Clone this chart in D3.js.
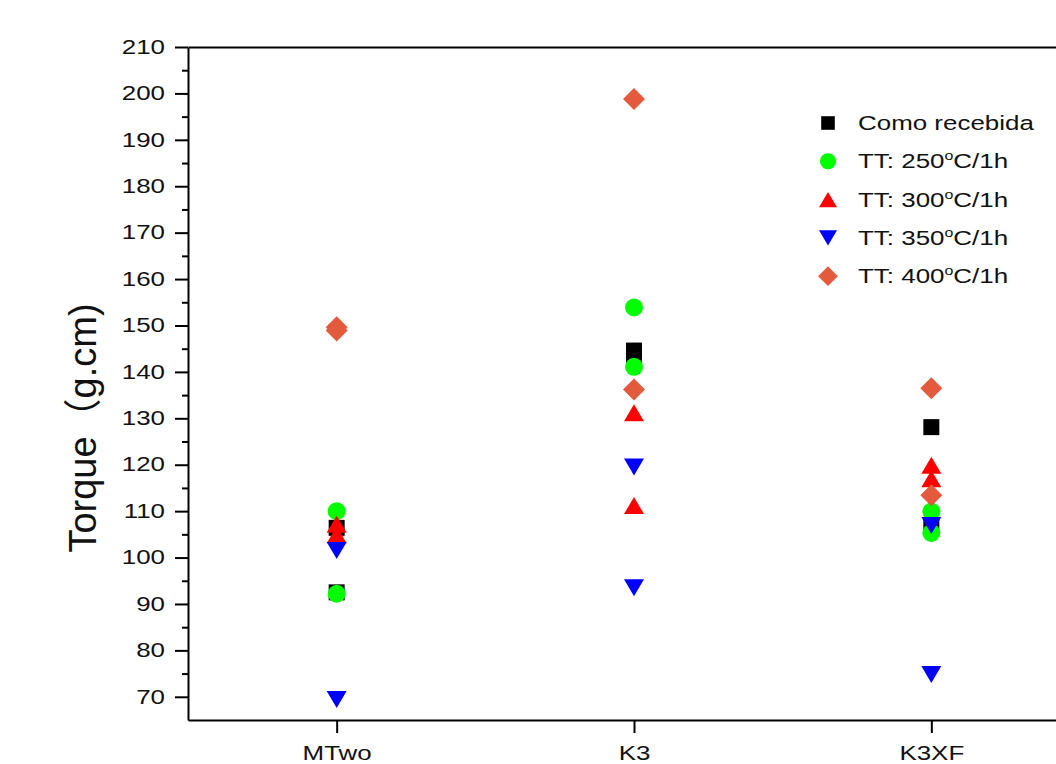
<!DOCTYPE html>
<html>
<head>
<meta charset="utf-8">
<script src="https://cdn.jsdelivr.net/npm/d3@7"></script>
<style>
  html, body { margin: 0; padding: 0; background: #fff; }
  svg { display: block; }
  text { font-family: "Liberation Sans", Arial, "Noto Sans CJK SC", sans-serif; fill: #111; }
</style>
</head>
<body>
<div id="chart"></div>
<script>
// categories on the x axis
const categories = ['MTwo', 'K3', 'K3XF'];

// two samples per category
const comoRecebida = [[106.4, 92.5], [144.6, 143.6], [128.1, 106.5]];
const tt250 = [[110.0, 92.2], [153.9, 141.1], [109.9, 105.3]];
const tt300 = [[107.2, 104.9], [131.2, 111.2], [119.9, 117.0]];
const tt350 = [[101.5, 69.4], [119.5, 93.5], [106.9, 74.8]];
const tt400 = [[149.6, 148.9], [198.8, 136.2], [136.5, 113.4]];

const seriesNames = ['Como recebida', 'TT: 250', 'TT: 300', 'TT: 350', 'TT: 400'];
const seriesValues = [comoRecebida, tt250, tt300, tt350, tt400];
const yTicks = [70, 80, 90, 100, 110, 120, 130, 140, 150, 160, 170, 180, 190, 200, 210];

const width = 1056;
const height = 764;
const LEFT = 188;
const RIGHT = 1080;   // frame continues past the picture edge
const TOP = 47;
const BOTTOM = 720;
const TEXT_STRETCH = 1.33;
const MAJOR_TICK = 13;
const MINOR_TICK = 6;

const colors = ['#000000', '#00ff00', '#ff0000', '#0000ff', '#e35a3d'];

// marker paths centred on their bounding box
const markers = [
  'M-8,-8H8V8H-8Z',
  d3.symbol(d3.symbolCircle, Math.PI * 81)(),
  'M0,-8.5L10,8.5H-10Z',
  'M0,8.5L10,-8.5H-10Z',
  'M0,-11L11,0L0,11L-11,0Z'
];

const svg = d3.select('#chart')
  .append('svg')
  .attr('width', width)
  .attr('height', height);

const x = d3.scalePoint()
  .domain(categories)
  .range([LEFT, RIGHT])
  .padding(0.5);

const y = d3.scaleLinear()
  .domain([65, 210])
  .range([BOTTOM, TOP]);

// minor ticks first so the major axis sits on top
svg.append('g')
  .attr('transform', `translate(${LEFT},0)`)
  .call(d3.axisLeft(y).tickValues(d3.range(75, 210, 10)).tickSize(MINOR_TICK).tickFormat('').tickSizeOuter(0))
  .call((g) => g.select('.domain').remove());

const yAxis = svg.append('g')
  .attr('transform', `translate(${LEFT},0)`)
  .call(d3.axisLeft(y).tickValues(yTicks).tickSize(MAJOR_TICK).tickSizeOuter(0));

yAxis.selectAll('text')
  .attr('x', -23 / TEXT_STRETCH)
  .attr('transform', `scale(${TEXT_STRETCH},1)`)
  .style('font-size', '19.5px');

const xAxis = svg.append('g')
  .attr('transform', `translate(0,${BOTTOM})`)
  .call(d3.axisBottom(x).tickSize(MAJOR_TICK).tickSizeOuter(0));

xAxis.selectAll('text')
  .attr('y', 40)
  .attr('dy', 0)
  .attr('transform', `scale(${TEXT_STRETCH},1)`)
  .style('font-size', '19.5px');

svg.append('g')
  .attr('transform', `translate(0,${TOP})`)
  .call(d3.axisTop(x).tickValues([]).tickSizeOuter(0));

svg.selectAll('.domain, .tick line')
  .attr('stroke', '#000')
  .attr('stroke-width', 2);

// y title
svg.append('text')
  .attr('transform', 'translate(96,428) rotate(-90)')
  .attr('text-anchor', 'middle')
  .style('font-size', '38px')
  .text('Torque（g.cm)');

// data points, series in plot order
seriesValues.forEach((vals, s) => {
  const pts = [];
  vals.forEach((pair, c) => pair.forEach((v) => pts.push({ cat: categories[c], v })));
  svg.append('g')
    .selectAll('path')
    .data(pts)
    .enter().append('path')
      .attr('d', markers[s])
      .attr('fill', colors[s])
      .attr('transform', (d) => `translate(${x(d.cat)},${y(d.v)})`);
});

// legend
const legend = svg.append('g')
  .selectAll('g')
  .data(seriesNames)
  .enter().append('g')
    .attr('transform', (d, i) => `translate(828,${123 + i * 38.3})`);

legend.append('path')
  .attr('d', (d, i) => markers[i])
  .attr('fill', (d, i) => colors[i])
  .attr('transform', (d, i) => i === 0 ? 'scale(0.85)' : 'scale(0.9)');

const legendText = legend.append('text')
  .attr('transform', `translate(30,7) scale(${TEXT_STRETCH},1)`)
  .style('font-size', '19.5px');

legendText.append('tspan').text((d) => d);
legendText.filter((d, i) => i > 0).append('tspan')
  .attr('dy', -8)
  .style('font-size', '12px')
  .text('o');
legendText.filter((d, i) => i > 0).append('tspan')
  .attr('dy', 8)
  .text('C/1h');
</script>
</body>
</html>
